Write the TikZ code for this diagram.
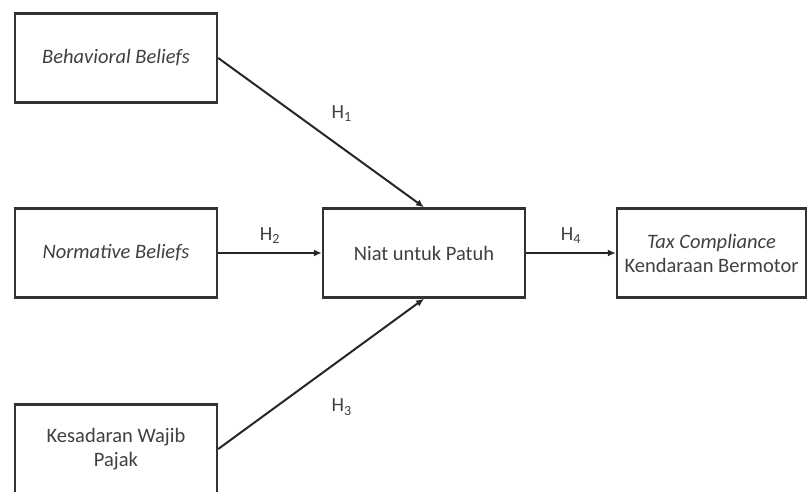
\documentclass[tikz,border=0pt]{standalone}
\usepackage{fontspec}
\setmainfont{Carlito}
\usetikzlibrary{arrows.meta}

\begin{document}
\begin{tikzpicture}[x=1pt, y=-1pt,
		box/.style={draw=black!80, line width=2.4pt, fill=white, minimum width=202pt, minimum height=89pt, align=center, font=\fontsize{20.5}{24}\selectfont, text=black!75},
		hyp/.style={font=\fontsize{20}{24}\selectfont, text=black!75},
		link/.style={line width=2pt, draw=black!85, -{Latex[length=8pt,width=7pt]}}]
			\useasboundingbox (0,0) rectangle (812,492);

			\node (beh)[box] at (116,58) {\textit{Behavioral Beliefs}};
			\node (norm)[box] at (116,253) {\textit{Normative Beliefs}};
			\node (sadar)[box] at (116,449) {Kesadaran Wajib\\Pajak};
			\node (niat)[box] at (424,253) {Niat untuk Patuh};
			\node (tax)[box, minimum width=189pt] at (711.5,253) {\textit{Tax Compliance}\\Kendaraan Bermotor};

			\draw [link](beh.east)to node[hyp, pos=0.6, above=22pt]{H\textsubscript{1}}(niat.north);
			\draw [link](norm.east)to node[hyp, midway, above=5pt]{H\textsubscript{2}}(niat.west);
			\draw [link](sadar.east)to node[hyp, pos=0.6, below=36pt]{H\textsubscript{3}}(niat.south);
			\draw [link](niat.east)to node[hyp, midway, above=5pt]{H\textsubscript{4}}(tax.west);
		\end{tikzpicture}
\end{document}
